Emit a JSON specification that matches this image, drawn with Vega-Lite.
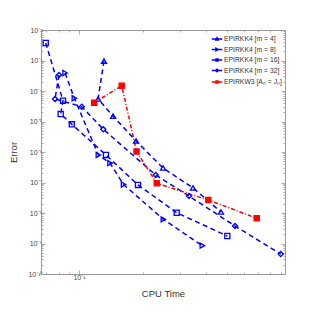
{
  "$schema": "https://vega.github.io/schema/vega-lite/v6.json",
  "width": 244,
  "height": 244,
  "autosize": "none",
  "padding": {"left": 41, "top": 30, "right": 30, "bottom": 41},
  "background": "white",
  "config": {
    "view": {"stroke": null},
    "axis": {"labelFont": "Liberation Sans", "titleFont": "Liberation Sans", "labelFontSize": 7, "titleFontSize": 9.5, "titleFontWeight": "normal", "domainColor": "#999", "tickColor": "#999", "labelColor": "#444", "titleColor": "#333", "grid": false, "domainWidth": 1, "tickWidth": 0.8}
  },
  "data": {"values": [
    {"s": "EPIRKK4 [m = 4]", "i": 1, "t": 0.1312, "e": 9.6e-4},
    {"s": "EPIRKK4 [m = 4]", "i": 2, "t": 0.1230, "e": 5.5e-5},
    {"s": "EPIRKK4 [m = 4]", "i": 3, "t": 0.1448, "e": 1.5e-5},
    {"s": "EPIRKK4 [m = 4]", "i": 4, "t": 0.186, "e": 2.3e-6},
    {"s": "EPIRKK4 [m = 4]", "i": 5, "t": 0.2495, "e": 3.0e-7},
    {"s": "EPIRKK4 [m = 4]", "i": 6, "t": 0.3457, "e": 6.6e-8},
    {"s": "EPIRKK4 [m = 4]", "i": 7, "t": 0.4688, "e": 1.08e-8},
    {"s": "EPIRKK4 [m = 8]", "i": 1, "t": 0.0859, "e": 3.9e-4},
    {"s": "EPIRKK4 [m = 8]", "i": 2, "t": 0.0950, "e": 5.8e-5},
    {"s": "EPIRKK4 [m = 8]", "i": 3, "t": 0.1234, "e": 8.0e-7},
    {"s": "EPIRKK4 [m = 8]", "i": 4, "t": 0.1401, "e": 4.3e-7},
    {"s": "EPIRKK4 [m = 8]", "i": 5, "t": 0.1623, "e": 8.6e-8},
    {"s": "EPIRKK4 [m = 8]", "i": 6, "t": 0.2503, "e": 6.2e-9},
    {"s": "EPIRKK4 [m = 8]", "i": 7, "t": 0.3826, "e": 8.5e-10},
    {"s": "EPIRKK4 [m = 16]", "i": 1, "t": 0.0696, "e": 3.75e-3},
    {"s": "EPIRKK4 [m = 16]", "i": 2, "t": 0.0840, "e": 4.8e-5},
    {"s": "EPIRKK4 [m = 16]", "i": 3, "t": 0.0819, "e": 1.76e-5},
    {"s": "EPIRKK4 [m = 16]", "i": 4, "t": 0.0924, "e": 8.1e-6},
    {"s": "EPIRKK4 [m = 16]", "i": 5, "t": 0.1341, "e": 8.0e-7},
    {"s": "EPIRKK4 [m = 16]", "i": 6, "t": 0.1900, "e": 8.3e-8},
    {"s": "EPIRKK4 [m = 16]", "i": 7, "t": 0.2895, "e": 1.02e-8},
    {"s": "EPIRKK4 [m = 16]", "i": 8, "t": 0.5023, "e": 1.76e-9},
    {"s": "EPIRKK4 [m = 32]", "i": 1, "t": 0.0804, "e": 3.35e-4},
    {"s": "EPIRKK4 [m = 32]", "i": 2, "t": 0.0770, "e": 5.5e-5},
    {"s": "EPIRKK4 [m = 32]", "i": 3, "t": 0.1030, "e": 3.06e-5},
    {"s": "EPIRKK4 [m = 32]", "i": 4, "t": 0.1302, "e": 5.55e-6},
    {"s": "EPIRKK4 [m = 32]", "i": 5, "t": 0.2304, "e": 1.76e-7},
    {"s": "EPIRKK4 [m = 32]", "i": 6, "t": 0.3310, "e": 3.6e-8},
    {"s": "EPIRKK4 [m = 32]", "i": 7, "t": 0.5461, "e": 3.75e-9},
    {"s": "EPIRKK4 [m = 32]", "i": 8, "t": 0.8980, "e": 4.5e-10},
    {"s": "EPIRKW3 [Aₙ = Jₙ]", "i": 1, "t": 0.1178, "e": 4.13e-5},
    {"s": "EPIRKW3 [Aₙ = Jₙ]", "i": 2, "t": 0.1591, "e": 1.49e-4},
    {"s": "EPIRKW3 [Aₙ = Jₙ]", "i": 3, "t": 0.1870, "e": 1.04e-6},
    {"s": "EPIRKW3 [Aₙ = Jₙ]", "i": 4, "t": 0.2330, "e": 9.4e-8},
    {"s": "EPIRKW3 [Aₙ = Jₙ]", "i": 5, "t": 0.4084, "e": 2.67e-8},
    {"s": "EPIRKW3 [Aₙ = Jₙ]", "i": 6, "t": 0.6917, "e": 6.7e-9}
  ]},
  "resolve": {"scale": {"x": "independent", "y": "independent", "color": "independent", "shape": "independent"}},
  "layer": [
    {
      "mark": {"type": "line", "strokeWidth": 1.5, "clip": true},
      "encoding": {
        "x": {"field": "t", "type": "quantitative", "scale": {"type": "log", "domain": [0.0661, 0.941], "nice": false},
          "axis": {"orient": "bottom", "title": "CPU Time", "titlePadding": 8, "labelPadding": 3,
            "values": [0.07, 0.08, 0.09, 0.1, 0.2, 0.3, 0.4, 0.5, 0.6, 0.7, 0.8, 0.9],
            "labelExpr": "datum.value == 0.1 ? '10⁻¹' : ''",
            "tickSize": {"condition": {"test": "datum.value == 0.1", "value": -4}, "value": -2}}},
        "y": {"field": "e", "type": "quantitative", "scale": {"type": "log", "domain": [1e-10, 1e-2], "nice": false},
          "axis": {"orient": "left", "title": "Error", "titlePadding": 9, "labelPadding": 3,
            "values": [1e-10,2e-10,3e-10,4e-10,5e-10,6e-10,7e-10,8e-10,9e-10,1e-9,2e-9,3e-9,4e-9,5e-9,6e-9,7e-9,8e-9,9e-9,1e-8,2e-8,3e-8,4e-8,5e-8,6e-8,7e-8,8e-8,9e-8,1e-7,2e-7,3e-7,4e-7,5e-7,6e-7,7e-7,8e-7,9e-7,1e-6,2e-6,3e-6,4e-6,5e-6,6e-6,7e-6,8e-6,9e-6,1e-5,2e-5,3e-5,4e-5,5e-5,6e-5,7e-5,8e-5,9e-5,1e-4,2e-4,3e-4,4e-4,5e-4,6e-4,7e-4,8e-4,9e-4,1e-3,2e-3,3e-3,4e-3,5e-3,6e-3,7e-3,8e-3,9e-3,1e-2],
            "labelExpr": "abs(log(datum.value)/LN10 - round(log(datum.value)/LN10)) < 1e-6 ? '10' + ['⁰','⁻¹','⁻²','⁻³','⁻⁴','⁻⁵','⁻⁶','⁻⁷','⁻⁸','⁻⁹','⁻¹⁰'][-round(log(datum.value)/LN10)] : ''",
            "tickSize": {"condition": {"test": "abs(log(datum.value)/LN10 - round(log(datum.value)/LN10)) < 1e-6", "value": -4}, "value": -2}}},
        "color": {"field": "s", "type": "nominal", "legend": null,
          "scale": {"domain": ["EPIRKK4 [m = 4]", "EPIRKK4 [m = 8]", "EPIRKK4 [m = 16]", "EPIRKK4 [m = 32]", "EPIRKW3 [Aₙ = Jₙ]"], "range": ["#0000ff", "#0000ff", "#0000ff", "#0000ff", "#ff0000"]}},
        "strokeDash": {"field": "s", "type": "nominal", "legend": null,
          "scale": {"domain": ["EPIRKK4 [m = 4]", "EPIRKK4 [m = 8]", "EPIRKK4 [m = 16]", "EPIRKK4 [m = 32]", "EPIRKW3 [Aₙ = Jₙ]"], "range": [[5, 3.5], [5, 3.5], [5, 3.5], [5, 3.5], [4, 2, 1, 2]]}},
        "order": {"field": "i", "type": "quantitative"}
      }
    },
    {
      "mark": {"type": "point", "filled": false, "size": 26, "strokeWidth": 1.3, "opacity": 1},
      "encoding": {
        "x": {"field": "t", "type": "quantitative", "scale": {"type": "log", "domain": [0.0661, 0.941], "nice": false}, "axis": null},
        "y": {"field": "e", "type": "quantitative", "scale": {"type": "log", "domain": [1e-10, 1e-2], "nice": false}, "axis": null},
        "color": {"field": "s", "type": "nominal", "legend": null,
          "scale": {"domain": ["EPIRKK4 [m = 4]", "EPIRKK4 [m = 8]", "EPIRKK4 [m = 16]", "EPIRKK4 [m = 32]", "EPIRKW3 [Aₙ = Jₙ]"], "range": ["#0000ff", "#0000ff", "#0000ff", "#0000ff", "#ff0000"]}},
        "shape": {"field": "s", "type": "nominal", "legend": null,
          "scale": {"domain": ["EPIRKK4 [m = 4]", "EPIRKK4 [m = 8]", "EPIRKK4 [m = 16]", "EPIRKK4 [m = 32]", "EPIRKW3 [Aₙ = Jₙ]"], "range": ["triangle-up", "triangle-right", "square", "diamond", "square"]}},
        "fill": {"condition": {"test": "datum.s === 'EPIRKW3 [Aₙ = Jₙ]'", "value": "#ff0000"}, "value": "transparent"}
      }
    },
    {
      "mark": {"type": "point", "filled": false, "size": 22, "strokeWidth": 1.3, "opacity": 0},
      "encoding": {
        "x": {"field": "t", "type": "quantitative", "scale": {"type": "log", "domain": [0.0661, 0.941], "nice": false},
          "axis": {"orient": "top", "title": null, "labels": false,
            "values": [0.07, 0.08, 0.09, 0.1, 0.2, 0.3, 0.4, 0.5, 0.6, 0.7, 0.8, 0.9],
            "tickSize": {"condition": {"test": "datum.value == 0.1", "value": -4}, "value": -2}}},
        "y": {"field": "e", "type": "quantitative", "scale": {"type": "log", "domain": [1e-10, 1e-2], "nice": false},
          "axis": {"orient": "right", "title": null, "labels": false,
            "values": [1e-10,2e-10,3e-10,4e-10,5e-10,6e-10,7e-10,8e-10,9e-10,1e-9,2e-9,3e-9,4e-9,5e-9,6e-9,7e-9,8e-9,9e-9,1e-8,2e-8,3e-8,4e-8,5e-8,6e-8,7e-8,8e-8,9e-8,1e-7,2e-7,3e-7,4e-7,5e-7,6e-7,7e-7,8e-7,9e-7,1e-6,2e-6,3e-6,4e-6,5e-6,6e-6,7e-6,8e-6,9e-6,1e-5,2e-5,3e-5,4e-5,5e-5,6e-5,7e-5,8e-5,9e-5,1e-4,2e-4,3e-4,4e-4,5e-4,6e-4,7e-4,8e-4,9e-4,1e-3,2e-3,3e-3,4e-3,5e-3,6e-3,7e-3,8e-3,9e-3,1e-2],
            "tickSize": {"condition": {"test": "abs(log(datum.value)/LN10 - round(log(datum.value)/LN10)) < 1e-6", "value": -4}, "value": -2}}},
        "color": {"field": "s", "type": "nominal",
          "scale": {"domain": ["EPIRKK4 [m = 4]", "EPIRKK4 [m = 8]", "EPIRKK4 [m = 16]", "EPIRKK4 [m = 32]", "EPIRKW3 [Aₙ = Jₙ]"], "range": ["#0000ff", "#0000ff", "#0000ff", "#0000ff", "#ff0000"]},
          "legend": {"orient": "top-right", "offset": 3, "title": null, "labelFontSize": 6.8, "labelFont": "Liberation Sans", "labelColor": "#333", "symbolSize": 110, "rowPadding": 0.5, "symbolStrokeWidth": 1.3, "symbolOpacity": 1, "labelOffset": 1, "padding": 0}},
        "shape": {"field": "s", "type": "nominal",
          "scale": {"domain": ["EPIRKK4 [m = 4]", "EPIRKK4 [m = 8]", "EPIRKK4 [m = 16]", "EPIRKK4 [m = 32]", "EPIRKW3 [Aₙ = Jₙ]"],
            "range": ["M-1,0H1M0,-0.25L0.25,0.2L-0.25,0.2Z", "M-1,0H1M-0.22,-0.25L0.25,0L-0.22,0.25Z", "M-1,0H1M-0.2,-0.2H0.2V0.2H-0.2Z", "M-1,0H1M0,-0.27L0.27,0L0,0.27L-0.27,0Z", "M-1,0H1M-0.2,-0.2H0.2V0.2H-0.2Z"]},
          "legend": {"orient": "top-right", "offset": 3, "title": null, "labelFontSize": 6.8, "labelFont": "Liberation Sans", "labelColor": "#333", "symbolSize": 110, "rowPadding": 0.5, "symbolStrokeWidth": 1.3, "symbolOpacity": 1, "labelOffset": 1, "padding": 0}}
      }
    }
  ]
}
